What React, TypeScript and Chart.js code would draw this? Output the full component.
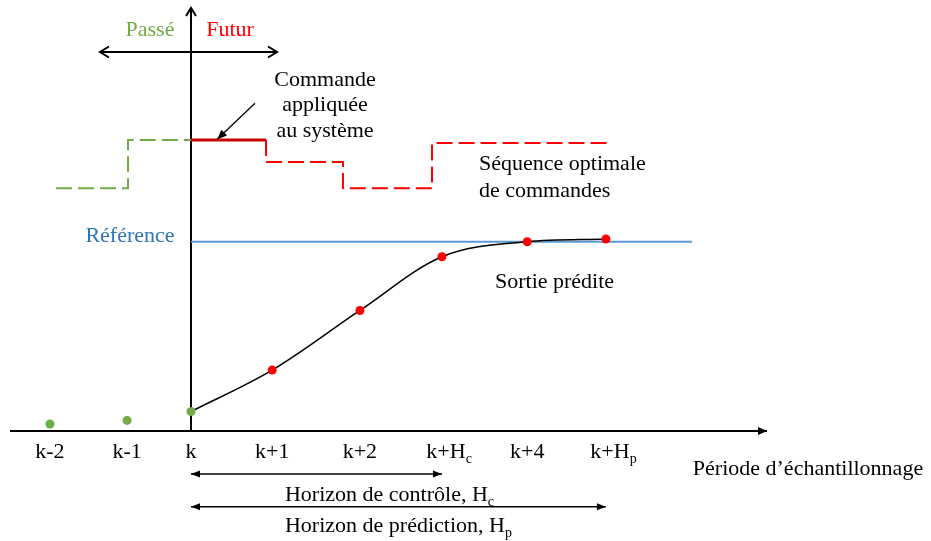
import React, { useEffect, useRef } from 'react';
import { Chart, registerables } from 'chart.js';

Chart.register(...registerables);

// ---- Data ----
const sampleLabels = ['k-2', 'k-1', 'k', 'k+1', 'k+2', 'k+H_c', 'k+4', 'k+H_p'];
const sampleTimes = [-1.72, -0.78, 0, 0.99, 2.06, 3.06, 4.1, 5.06];
const pastOutputs = [1.65, 2.5]; // measured at k-2, k-1
const predictedOutputs = [4.6, 14.4, 28.5, 41.2, 44.75, 45.4]; // k .. k+Hp
const referenceValue = 44.75;
const referenceEnd = 6.11;
const pastCmdTimes = [-1.646, -0.768, 0];
const pastCmdValues = [57.4, 68.8];
const futureCmdTimes = [0, 0.915, 1.854, 2.939, 5.073];
const futureCmdValues = [68.8, 63.6, 57.4, 68.1];

const GREEN = '#70AD47';
const RED = '#FF0000';
const DARKRED = '#CC0000';
const BLUE_LINE = '#5B9BD5';
const BLUE_TEXT = '#2E75B6';

const stepPoints = (times: number[], values: number[]) => {
  const pts = values.map((v, i) => ({ x: times[i], y: v }));
  pts.push({ x: times[times.length - 1], y: values[values.length - 1] });
  return pts;
};

const pastPts = pastOutputs.map((y, i) => ({ x: sampleTimes[i], y }));
const predPts = predictedOutputs.map((y, i) => ({ x: sampleTimes[i + 2], y }));
const refPts = [
  { x: 0, y: referenceValue },
  { x: referenceEnd, y: referenceValue },
];
const pastCmdPts = stepPoints(pastCmdTimes, pastCmdValues);
const appliedPts = [
  { x: futureCmdTimes[0], y: futureCmdValues[0] },
  { x: futureCmdTimes[1], y: futureCmdValues[0] },
];
const futureDashedPts = [
  { x: futureCmdTimes[1], y: futureCmdValues[0] },
  ...stepPoints(futureCmdTimes.slice(1), futureCmdValues.slice(1)),
];

const FONT = (s: number) => `${s}px "Liberation Serif", "Times New Roman", serif`;

function drawRich(
  ctx: CanvasRenderingContext2D,
  text: string,
  x: number,
  y: number,
  align: 'left' | 'center' | 'right' | 'mainCenter',
  color: string,
  size = 22
) {
  const parts = text.split(/_(\w)/);
  const subSize = Math.round(size * 0.62);
  let w = 0;
  let mainW = 0;
  parts.forEach((p, i) => {
    ctx.font = FONT(i % 2 ? subSize : size);
    const pw = ctx.measureText(p).width;
    w += pw;
    if (i % 2 === 0) mainW += pw;
  });
  let cx =
    align === 'center' ? x - w / 2 :
    align === 'mainCenter' ? x - mainW / 2 :
    align === 'right' ? x - w : x;
  ctx.fillStyle = color;
  ctx.textAlign = 'left';
  ctx.textBaseline = 'alphabetic';
  parts.forEach((p, i) => {
    const sub = i % 2 === 1;
    ctx.font = FONT(sub ? subSize : size);
    ctx.fillText(p, cx, sub ? y + size * 0.24 : y);
    cx += ctx.measureText(p).width;
  });
}

function head(
  ctx: CanvasRenderingContext2D,
  x1: number, y1: number, x2: number, y2: number,
  style: 'open' | 'filled', len: number, half: number
) {
  const a = Math.atan2(y2 - y1, x2 - x1);
  const bx = x2 - len * Math.cos(a);
  const by = y2 - len * Math.sin(a);
  const nx = -Math.sin(a) * half;
  const ny = Math.cos(a) * half;
  ctx.beginPath();
  ctx.moveTo(bx + nx, by + ny);
  ctx.lineTo(x2, y2);
  ctx.lineTo(bx - nx, by - ny);
  if (style === 'filled') {
    ctx.closePath();
    ctx.fill();
  } else {
    ctx.stroke();
  }
}

function arrow(
  ctx: CanvasRenderingContext2D,
  p1: number[], p2: number[],
  o: { width: number; style: 'open' | 'filled'; len: number; half: number; both?: boolean; color?: string }
) {
  ctx.save();
  ctx.lineWidth = o.width;
  ctx.strokeStyle = o.color || '#000';
  ctx.fillStyle = o.color || '#000';
  ctx.lineJoin = 'miter';
  ctx.lineCap = 'butt';
  ctx.beginPath();
  ctx.moveTo(p1[0], p1[1]);
  ctx.lineTo(p2[0], p2[1]);
  ctx.stroke();
  head(ctx, p1[0], p1[1], p2[0], p2[1], o.style, o.len, o.half);
  if (o.both) head(ctx, p2[0], p2[1], p1[0], p1[1], o.style, o.len, o.half);
  ctx.restore();
}

const X_MIN = -2.2073;
const X_MAX = 7.0244;

const diagramPlugin = {
  id: 'mpcDiagram',
  beforeDatasetsDraw(chart: any) {
    const ctx = chart.ctx as CanvasRenderingContext2D;
    const xs = chart.scales.x;
    const ys = chart.scales.y;
    const P = (x: number, y: number) => [xs.getPixelForValue(x), ys.getPixelForValue(y)];
    // time axis
    arrow(ctx, P(X_MIN, 0), P(X_MAX, 0), { width: 2, style: 'filled', len: 9, half: 4 });
    // vertical axis
    arrow(ctx, P(0, 0), P(0, 100), { width: 2, style: 'open', len: 8, half: 5 });
  },
  afterDraw(chart: any) {
    const ctx = chart.ctx as CanvasRenderingContext2D;
    const xs = chart.scales.x;
    const ys = chart.scales.y;
    const P = (x: number, y: number) => [xs.getPixelForValue(x), ys.getPixelForValue(y)];
    const T = (text: string, x: number, y: number, align: 'left' | 'center' | 'right' | 'mainCenter', color = '#000') => {
      const p = P(x, y);
      drawRich(ctx, text, p[0], p[1], align, color);
    };

    // Past / future double arrow
    arrow(ctx, P(-1.11, 89.6), P(1.049, 89.6), { width: 2, style: 'open', len: 9, half: 5.5, both: true });
    T('Passé', -0.5, 93.4, 'center', GREEN);
    T('Futur', 0.476, 93.4, 'center', RED);

    // Applied command label + arrow
    T('Commande', 1.634, 81.6, 'center');
    T('appliquée', 1.634, 75.6, 'center');
    T('au système', 1.634, 69.6, 'center');
    arrow(ctx, P(0.78, 77.5), P(0.317, 68.9), { width: 1.3, style: 'filled', len: 10, half: 4 });

    T('Séquence optimale', 3.512, 61.7, 'left');
    T('de commandes', 3.512, 55.3, 'left');
    T('Référence', -0.744, 44.7, 'center', BLUE_TEXT);
    T('Sortie prédite', 3.707, 33.8, 'left');

    // tick labels
    sampleLabels.forEach((lab, i) => T(lab, sampleTimes[i] + (lab.includes('_') ? 0.05 : 0), -6.4, 'mainCenter'));
    T('Période d’échantillonnage', 6.12, -10.4, 'left');

    // horizons
    arrow(ctx, P(0, -10.17), P(sampleTimes[5], -10.17), { width: 1.5, style: 'filled', len: 9, half: 3.5, both: true });
    T('Horizon de contrôle, H_c', 1.146, -16.5, 'left');
    arrow(ctx, P(0, -17.9), P(sampleTimes[7], -17.9), { width: 1.5, style: 'filled', len: 9, half: 3.5, both: true });
    T('Horizon de prédiction, H_p', 1.146, -23.9, 'left');
  },
};

export default function App() {
  const canvasRef = useRef<HTMLCanvasElement>(null);

  useEffect(() => {
    if (!canvasRef.current) return;
    const chart = new Chart(canvasRef.current, {
      type: 'line',
      data: {
        datasets: [
          {
            data: pastPts,
            showLine: false,
            pointRadius: 4.5,
            pointBorderWidth: 0,
            pointBackgroundColor: GREEN,
            clip: false,
          } as any,
          {
            data: predPts,
            borderColor: '#000',
            borderWidth: 1.5,
            cubicInterpolationMode: 'monotone',
            pointRadius: 4.5,
            pointBorderWidth: 0,
            pointBackgroundColor: predPts.map((_, i) => (i === 0 ? GREEN : RED)),
            clip: false,
          } as any,
          {
            data: refPts,
            borderColor: BLUE_LINE,
            borderWidth: 2,
            pointRadius: 0,
            clip: false,
          } as any,
          {
            data: appliedPts,
            borderColor: DARKRED,
            borderWidth: 3,
            pointRadius: 0,
            clip: false,
          } as any,
          {
            data: futureDashedPts,
            borderColor: RED,
            borderWidth: 2,
            borderDash: [16, 6],
            stepped: true,
            pointRadius: 0,
            clip: false,
          } as any,
          {
            data: pastCmdPts,
            borderColor: GREEN,
            borderWidth: 2,
            borderDash: [16, 6],
            stepped: true,
            pointRadius: 0,
            clip: false,
          } as any,
        ],
      },
      options: {
        animation: false,
        responsive: true,
        maintainAspectRatio: false,
        layout: { padding: { left: 10, right: 164, top: 8, bottom: 110 } },
        plugins: {
          legend: { display: false },
          tooltip: { enabled: false },
        },
        scales: {
          x: { type: 'linear', min: X_MIN, max: X_MAX, display: false },
          y: { type: 'linear', min: 0, max: 100, display: false },
        },
      },
      plugins: [diagramPlugin],
    } as any);
    return () => chart.destroy();
  }, []);

  return (
    <div style={{ position: 'fixed', left: 0, top: 0, width: 931, height: 541, background: '#fff' }}>
      <canvas ref={canvasRef} />
    </div>
  );
}
